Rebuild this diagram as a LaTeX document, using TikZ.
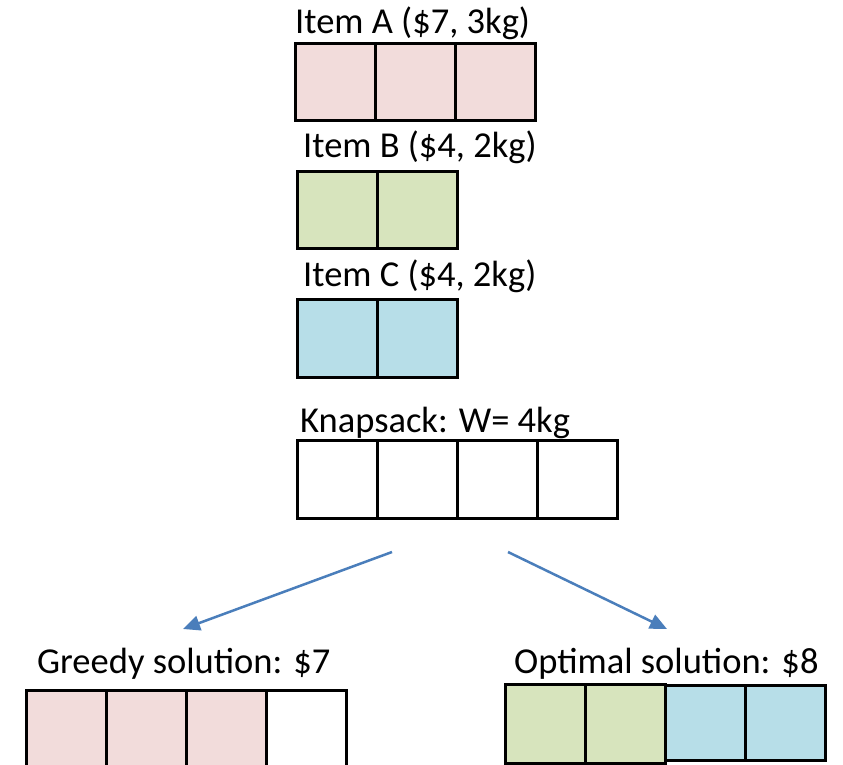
\documentclass[tikz,border=0pt]{standalone}
\usepackage{fontspec}
\setmainfont{Carlito}
\usetikzlibrary{arrows.meta}
\definecolor{itempink}{HTML}{F2DCDB}
\definecolor{itemgreen}{HTML}{D7E4BD}
\definecolor{itemblue}{HTML}{B7DEE8}
\definecolor{arrowblue}{HTML}{4A7EBB}
\tikzset{
  cell/.style={draw=black, line width=2.5pt, anchor=north west, inner sep=0pt,
    minimum width=80pt, minimum height=#1},
  cell/.default=78pt,
  caption/.style={anchor=base west, inner sep=0pt,
    font=\fontsize{36.5}{44}\selectfont},
  branch/.style={draw=arrowblue, line width=2.5pt,
    -{Triangle[length=17pt,width=15pt]}},
}
\begin{document}
\begin{tikzpicture}[x=1pt, y=-1pt]
\useasboundingbox (0,0) rectangle (843,764);

% Item A: three units
\node[caption] (labA) at (295,33) {Item A (\$7, 3kg)};
\node[cell=77pt, fill=itempink] (a1) at (294,42) {};
\node[cell=77pt, fill=itempink] (a2) at (374,42) {};
\node[cell=77pt, fill=itempink] (a3) at (454,42) {};

% Item B: two units
\node[caption] (labB) at (303,157) {Item B (\$4, 2kg)};
\node[cell=77pt, fill=itemgreen] (b1) at (296,170) {};
\node[cell=77pt, fill=itemgreen] (b2) at (376,170) {};

% Item C: two units
\node[caption] (labC) at (303,286) {Item C (\$4, 2kg)};
\node[cell, fill=itemblue] (c1) at (296,298) {};
\node[cell, fill=itemblue] (c2) at (376,298) {};

% Knapsack with capacity four
\node[caption] (labK) at (300,432) {Knapsack: W= 4kg};
\node[cell, fill=white] (k1) at (296,439) {};
\node[cell, fill=white] (k2) at (376,439) {};
\node[cell, fill=white] (k3) at (456,439) {};
\node[cell, fill=white] (k4) at (536,439) {};

% Two ways of filling it
\coordinate (forkL) at (392,552);
\coordinate (forkR) at (508,552);
\coordinate (greedyTip) at (183,629);
\coordinate (optTip) at (667,629);
\draw[branch] (forkL) -- (greedyTip);
\draw[branch] (forkR) -- (optTip);

% Greedy solution
\node[caption] (labG) at (37,673) {Greedy solution: \$7};
\node[cell=80pt, fill=itempink] (g1) at (25,689) {};
\node[cell=80pt, fill=itempink] (g2) at (105,689) {};
\node[cell=80pt, fill=itempink] (g3) at (185,689) {};
\node[cell=80pt, fill=white] (g4) at (265,689) {};

% Optimal solution
\node[caption] (labO) at (514,673) {Optimal solution: \$8};
\node[cell=75pt, fill=itemblue] (o3) at (664,684) {};
\node[cell=75pt, fill=itemblue] (o4) at (744,684) {};
\node[cell=79pt, fill=itemgreen] (o1) at (504,683) {};
\node[cell=79pt, fill=itemgreen] (o2) at (584,683) {};
\end{tikzpicture}
\end{document}
